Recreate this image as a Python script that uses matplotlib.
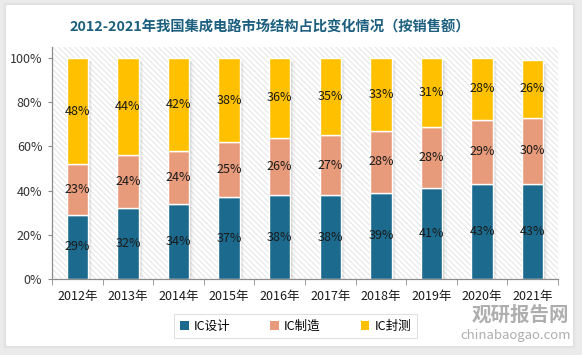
import matplotlib
matplotlib.use("Agg")
import matplotlib.pyplot as plt
from matplotlib.patches import Rectangle
import numpy as np

plt.rcParams['font.family'] = ['Noto Sans CJK SC', 'DejaVu Sans']
plt.rcParams['hatch.linewidth'] = 0.6

years = ['2012年', '2013年', '2014年', '2015年', '2016年', '2017年', '2018年', '2019年', '2020年', '2021年']
design = [29, 32, 34, 37, 38, 38, 39, 41, 43, 43]
manufacture = [23, 24, 24, 25, 26, 27, 28, 28, 29, 30]
packaging = [48, 44, 42, 38, 36, 35, 33, 31, 28, 26]
series_names = ['IC设计', 'IC制造', 'IC封测']
colors = ['#1c6b8e', '#e89b7b', '#ffc000']
yticks = [0, 20, 40, 60, 80, 100]

W, H = 582, 355
fig = plt.figure(figsize=(W / 100, H / 100), dpi=100)
fig.patch.set_facecolor('#ebebeb')

# card with soft shadow
for k, a in enumerate([0.06, 0.05, 0.04]):
    d = k + 1
    fig.patches.append(Rectangle(((6 - d) / W, (H - 346 - d) / H), (567 + 2 * d) / W, (341 + 2 * d) / H,
                                 transform=fig.transFigure, facecolor='#a0a0a0', alpha=a,
                                 edgecolor='none', zorder=-3))
fig.patches.append(Rectangle((6 / W, (H - 346) / H), 567 / W, 341 / H, transform=fig.transFigure,
                             facecolor='white', edgecolor='none', zorder=-2))

ax = fig.add_axes([52 / W, 1 - 279 / H, (558 - 52) / W, (279 - 47) / H])
ax.set_zorder(1)
ax.patch.set_alpha(0)
ax.add_patch(Rectangle((0, 0), 1, 1, transform=ax.transAxes, facecolor='white',
                       edgecolor='#e0e0e0', hatch='\\\\\\\\\\\\', linewidth=0, zorder=0))

x = np.arange(len(years))
width = 0.42
bottoms = np.zeros(len(years))
data = [design, manufacture, packaging]
totals = np.sum(data, axis=0)

# shadows
for off, al in [(0.03, 0.16), (0.06, 0.10), (0.09, 0.06)]:
    ax.bar(x + off, totals - 1.0, width=width, bottom=-0.5, color='#808080', alpha=al,
           linewidth=0, zorder=1)

for vals, c, name in zip(data, colors, series_names):
    vals = np.array(vals)
    ax.bar(x, vals, width=width, bottom=bottoms, color=c, edgecolor='white',
           linewidth=1.0, label=name, zorder=2)
    for xi, b, v in zip(x, bottoms, vals):
        ax.text(xi, b + v / 2, f'{v}%', ha='center', va='center', fontsize=9,
                color='#1a1a1a', zorder=3)
    bottoms = bottoms + vals

ax.set_xlim(-0.5, len(years) - 0.5)
ax.set_ylim(0, 105)
ax.set_yticks(yticks)
ax.set_yticklabels([f'{v}%' for v in yticks], fontsize=9, color='#333333')
ax.set_xticks(x)
ax.set_xticklabels(years, fontsize=9, color='#1a1a1a')
ax.set_xticks(np.arange(len(years) + 1) - 0.5, minor=True)
ax.tick_params(axis='x', which='major', length=0, pad=8)
ax.tick_params(axis='x', which='minor', length=4, color='#8c8c8c', direction='out')
ax.tick_params(axis='y', length=3, color='#8c8c8c', pad=4)
for s in ['top', 'right']:
    ax.spines[s].set_visible(False)
for s in ['left', 'bottom']:
    ax.spines[s].set_color('#8c8c8c')
    ax.spines[s].set_linewidth(0.9)

fig.text(270 / W, 1 - 27 / H, '2012-2021年我国集成电路市场结构占比变化情况（按销售额）',
         ha='center', va='center', fontsize=10.3, fontweight='bold', color='#1d5f7f')

handles = [Rectangle((0, 0), 1, 1, facecolor=c, edgecolor='none') for c in colors]
leg = fig.legend(handles, series_names, loc='center', bbox_to_anchor=(295.5 / W, 1 - 326 / H),
                 ncol=3, fontsize=9, frameon=True, fancybox=False, handlelength=0.7,
                 handleheight=0.7, handletextpad=0.4, columnspacing=3.2, borderpad=0.45)
leg.get_frame().set_edgecolor('#d9d9d9')
leg.get_frame().set_linewidth(0.8)

# watermark
fig.text(520 / W, 1 - 315 / H, '观研报告网', ha='center', va='center', fontsize=14,
         fontweight='bold', color='#a0a0a0', alpha=0.85)
fig.text(516 / W, 1 - 335 / H, 'chinabaogao.com', ha='center', va='center', fontsize=9.5,
         color='#a0a0a0', alpha=0.85)

fig.savefig('out.png', dpi=100, facecolor=fig.get_facecolor())
